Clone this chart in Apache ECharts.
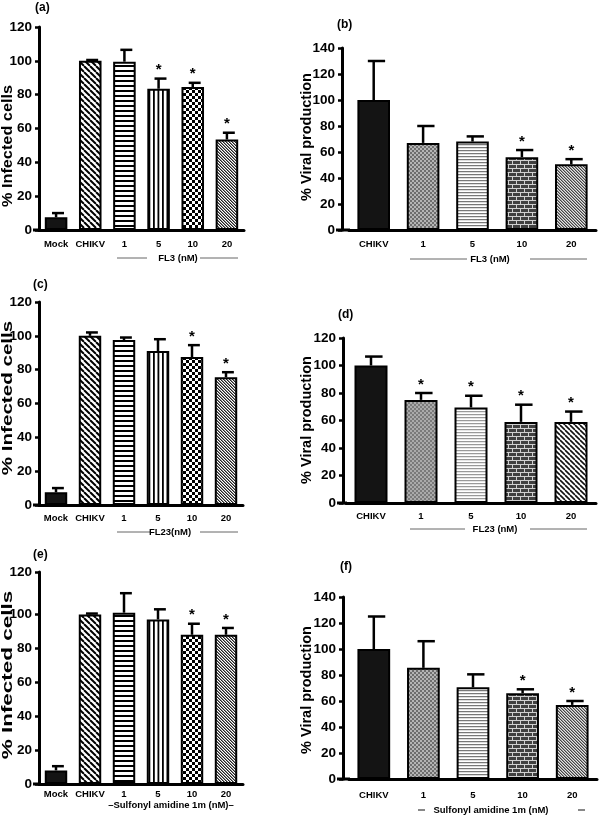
<!DOCTYPE html>
<html><head><meta charset="utf-8">
<script src="https://cdn.jsdelivr.net/npm/echarts@6/dist/echarts.min.js"></script>
<style>html,body{margin:0;padding:0;background:#fff}#c{width:600px;height:818px}</style>
</head><body><div id="c"></div>
<script>
// ---------- data ----------
const catsInfected = ['Mock', 'CHIKV', '1', '5', '10', '20'];
const catsViral = ['CHIKV', '1', '5', '10', '20'];

const aValues = [7.5, 100, 99.5, 83.5, 84.5, 53.5];
const aErrors = [2.5, 0.5, 7, 6, 2.5, 4];
const aSig    = [0, 0, 0, 1, 1, 1];

const bValues = [100, 67, 68, 56, 50.5];
const bErrors = [30, 13, 4, 5.5, 4];
const bSig    = [0, 0, 0, 1, 1];

const cValues = [7.5, 100, 97.5, 91, 87.5, 75.5];
const cErrors = [2.5, 2, 1.5, 7, 7, 3];
const cSig    = [0, 0, 0, 0, 1, 1];

const dValues = [100, 75, 69.5, 59, 59];
const dErrors = [6.5, 5, 8.5, 12.5, 7.5];
const dSig    = [0, 1, 1, 1, 1];

const eValues = [8, 100, 101, 97, 88, 88];
const eErrors = [2.5, 0.5, 11.5, 6, 6.5, 4];
const eSig    = [0, 0, 0, 0, 1, 1];

const fValues = [100, 85.5, 70.5, 66, 57];
const fErrors = [25, 20.5, 10, 3, 3];
const fSig    = [0, 0, 0, 1, 1];

const ticksE = [0, 20, 40, 60, 80, 100, 125];
const tickTextE = ['0', '20', '40', '60', '80', '100', '120'];

// ---------- patterns ----------
function mk(w, h, draw) {
  const c = document.createElement('canvas'); c.width = w; c.height = h;
  const g = c.getContext('2d'); g.fillStyle = '#fff'; g.fillRect(0, 0, w, h); draw(g);
  return { image: c, repeat: 'repeat' };
}
function diag(period, lw, col, bg) {
  return mk(period, period, g => {
    if (bg) { g.fillStyle = bg; g.fillRect(0, 0, period, period); }
    g.strokeStyle = col; g.lineWidth = lw;
    for (const o of [-period, 0, period]) { g.beginPath(); g.moveTo(o, 0); g.lineTo(o + period, period); g.stroke(); }
  });
}
const P = {
  solid: '#141414',
  diagCoarse: diag(6, 2, '#000'),
  diagMed: diag(5, 1.6, '#111'),
  horiz: mk(4, 5, g => { g.fillStyle = '#000'; g.fillRect(0, 0, 4, 2); }),
  vert: mk(9, 4, g => { g.fillStyle = '#000'; g.fillRect(0, 0, 1.8, 4); g.fillRect(4.5, 0, 1.8, 4); }),
  checker: mk(6, 6, g => { g.fillStyle = '#000'; g.fillRect(0, 0, 3, 3); g.fillRect(3, 3, 3, 3); }),
  fineDiag: mk(3, 3, g => { for (let i = 0; i < 3; i++) { g.fillStyle = '#222'; g.fillRect(i, i, 1, 1); g.fillStyle = '#888'; g.fillRect((i + 1) % 3, i, 1, 1); } }),
  fineDiagGray: mk(3, 3, g => { g.fillStyle = '#e4e4e4'; g.fillRect(0, 0, 3, 3); for (let i = 0; i < 3; i++) { g.fillStyle = '#444'; g.fillRect(i, i, 1, 1); g.fillStyle = '#999'; g.fillRect((i + 1) % 3, i, 1, 1); } }),
  grayDots: mk(4, 4, g => { g.fillStyle = '#6e6e6e'; g.fillRect(0, 0, 4, 4); g.fillStyle = '#b4b4b4'; g.fillRect(0, 0, 2, 2); g.fillRect(2, 2, 2, 2); }),
  grayDotsD: mk(4, 4, g => { g.fillStyle = '#7a7a7a'; g.fillRect(0, 0, 4, 4); g.fillStyle = '#aaa'; g.fillRect(0, 0, 2, 2); g.fillRect(2, 2, 2, 2); }),
  hlinesFine: mk(3, 3, g => { g.fillStyle = '#777'; g.fillRect(0, 0, 3, 1); g.fillStyle = '#ddd'; g.fillRect(0, 1, 3, 1); }),
  hlinesLight: mk(3, 3, g => { g.fillStyle = '#999'; g.fillRect(0, 0, 3, 1); g.fillStyle = '#e6e6e6'; g.fillRect(0, 1, 3, 1); }),
  brick: mk(8, 8, g => { g.fillStyle = '#404040'; g.fillRect(0, 0, 8, 8); g.fillStyle = '#d0d0d0';
    g.fillRect(0, 0, 8, 1); g.fillRect(0, 4, 8, 1); g.fillRect(0, 1, 1, 3); g.fillRect(4, 5, 1, 3); })
};
const fillsInfected = [P.solid, P.diagCoarse, P.horiz, P.vert, P.checker, P.fineDiag];
const fillsViral = [P.solid, P.grayDots, P.hlinesFine, P.brick, P.fineDiagGray];
const fillsViralD = [P.solid, P.grayDotsD, P.hlinesLight, P.brick, P.diagMed];

const FONT = 'Liberation Sans, Arial, sans-serif';

const panels = [
  { cats: catsInfected, vals: aValues, errs: aErrors, sig: aSig, fills: fillsInfected, grid: { left: 39, top: 27, width: 205, height: 203 }, max: 120, yOff: 0, xMargin: 9 },
  { cats: catsViral, vals: bValues, errs: bErrors, sig: bSig, fills: fillsViral, grid: { left: 349, top: 48, width: 247, height: 182 }, max: 140, yOff: 7, xMargin: 9 },
  { cats: catsInfected, vals: cValues, errs: cErrors, sig: cSig, fills: fillsInfected, grid: { left: 39, top: 302, width: 204, height: 203 }, max: 120, yOff: 0, xMargin: 8 },
  { cats: catsViral, vals: dValues, errs: dErrors, sig: dSig, fills: fillsViralD, grid: { left: 346, top: 338, width: 250, height: 165 }, max: 120, yOff: 3, xMargin: 8 },
  { cats: catsInfected, vals: eValues, errs: eErrors, sig: eSig, fills: fillsInfected, grid: { left: 39, top: 572, width: 204, height: 212 }, max: 125, yOff: 0, xMargin: 5, custom: true },
  { cats: catsViral, vals: fValues, errs: fErrors, sig: fSig, fills: fillsViral, grid: { left: 349, top: 597, width: 248, height: 182 }, max: 140, yOff: 6, xMargin: 11 }
];

const BAR = 0.66;
function errRender(params, api) {
  const i = api.value(0), v = api.value(1), e = api.value(2), s = api.value(3);
  const base = api.coord([i, v]); const top = api.coord([i, v + e]);
  const band = api.size([1, 0])[0]; const bw = band * BAR; const cx = base[0];
  const ch = [
    { type: 'line', shape: { x1: cx, y1: base[1], x2: cx, y2: top[1] }, style: { stroke: '#000', lineWidth: 2.5 } },
    { type: 'line', shape: { x1: cx - bw * 0.18, y1: top[1], x2: cx + bw * 0.35, y2: top[1] }, style: { stroke: '#000', lineWidth: 2.5 } }
  ];
  if (s) ch.push({ type: 'text', style: { text: '*', x: cx, y: top[1] - 1, align: 'center', verticalAlign: 'bottom', font: 'bold 15px ' + FONT, fill: '#000' } });
  return { type: 'group', children: ch };
}

const option = { animation: false, backgroundColor: '#fff', grid: [], xAxis: [], yAxis: [], series: [], graphic: [] };
panels.forEach((p, k) => {
  option.grid.push(p.grid);
  option.xAxis.push({
    type: 'category', gridIndex: k, data: p.cats,
    axisLine: { lineStyle: { color: '#000', width: 3 } }, axisTick: { show: false },
    axisLabel: { color: '#000', fontWeight: 'bold', fontSize: 9.5, fontFamily: FONT, margin: p.xMargin, interval: 0 }
  });
  const y = {
    type: 'value', gridIndex: k, min: 0, max: p.max, interval: 20, offset: p.yOff,
    axisLine: { show: true, lineStyle: { color: '#000', width: 3 } },
    axisTick: { show: true, length: 4, lineStyle: { color: '#000', width: 2.5 } },
    splitLine: { show: false },
    axisLabel: { color: '#000', fontWeight: 'bold', fontSize: 13.5, fontFamily: FONT, margin: 7 }
  };
  if (p.custom) {
    y.axisLabel.customValues = ticksE;
    y.axisTick.customValues = ticksE;
    y.axisLabel.formatter = v => tickTextE[ticksE.indexOf(v)];
  }
  option.yAxis.push(y);
  option.series.push({
    type: 'bar', xAxisIndex: k, yAxisIndex: k, barWidth: (BAR * 100) + '%',
    data: p.vals.map((v, i) => ({ value: v, itemStyle: { color: p.fills[i], borderColor: '#000', borderWidth: 2 } })),
    z: 2
  });
  option.series.push({
    type: 'custom', xAxisIndex: k, yAxisIndex: k, renderItem: errRender, clip: false, z: 3,
    encode: { x: 0, y: 1 },
    data: p.vals.map((v, i) => [i, v, p.errs[i], p.sig[i]])
  });
  const yb = p.grid.top + p.grid.height;
  option.graphic.push({ type: 'line', shape: { x1: p.grid.left - p.yOff - 6, y1: yb, x2: p.grid.left + 1, y2: yb }, style: { stroke: '#000', lineWidth: 3 } });
});

function txt(t, x, y, size, opts) {
  opts = opts || {};
  return {
    type: 'text', x: x, y: y, rotation: opts.rot || 0, scaleX: opts.sx || 1, scaleY: 1,
    style: { text: t, x: 0, y: 0, align: opts.align || 'center', verticalAlign: 'middle', font: 'bold ' + size + 'px ' + FONT, fill: opts.fill || '#000' }, z: 10
  };
}
function hl(x1, x2, y, w, col) {
  return { type: 'line', shape: { x1: x1, y1: y, x2: x2, y2: y }, style: { stroke: col || '#666', lineWidth: w || 1 }, z: 10 };
}
const G = option.graphic;
// panel letters
G.push(txt('(a)', 35, 8, 12, { align: 'left' }));
G.push(txt('(b)', 337, 25, 12, { align: 'left' }));
G.push(txt('(c)', 33, 285, 12, { align: 'left' }));
G.push(txt('(d)', 338, 315, 12, { align: 'left' }));
G.push(txt('(e)', 33, 555, 12, { align: 'left' }));
G.push(txt('(f)', 340, 567, 12, { align: 'left' }));
// y titles
const R = Math.PI / 2;
G.push(txt('% Infected cells', 8, 146, 15.5, { rot: R, sx: 1.05 }));
G.push(txt('% Viral production', 307, 137, 14.5, { rot: R }));
G.push(txt('% Infected cells', 8, 398, 14.5, { rot: R, sx: 1.42 }));
G.push(txt('% Viral production', 307, 420, 14.5, { rot: R }));
G.push(txt('% Infected cells', 8, 675, 14.5, { rot: R, sx: 1.55 }));
G.push(txt('% Viral production', 307, 690, 14.5, { rot: R }));
// group labels
G.push(hl(117, 147, 258)); G.push(hl(200, 238, 258)); G.push(txt('FL3 (nM)', 178, 258, 9.5));
G.push(hl(410, 467, 259)); G.push(hl(530, 587, 259)); G.push(txt('FL3 (nM)', 490, 259, 9.5));
G.push(hl(117, 150, 532)); G.push(hl(200, 238, 532)); G.push(txt('FL23(nM)', 170, 532, 9.5));
G.push(hl(410, 465, 529)); G.push(hl(530, 587, 529)); G.push(txt('FL23 (nM)', 495, 529, 9.5));
G.push(txt('\u2013Sulfonyl amidine 1m (nM)\u2013', 171, 805, 9.5));
G.push(hl(418, 425, 810, 2, '#888')); G.push(hl(578, 585, 810, 2, '#888')); G.push(txt('Sulfonyl amidine 1m (nM)', 491, 810, 9.5));

const chart = echarts.init(document.getElementById('c'), null, { renderer: 'canvas' });
chart.setOption(option);
</script>
</body></html>
